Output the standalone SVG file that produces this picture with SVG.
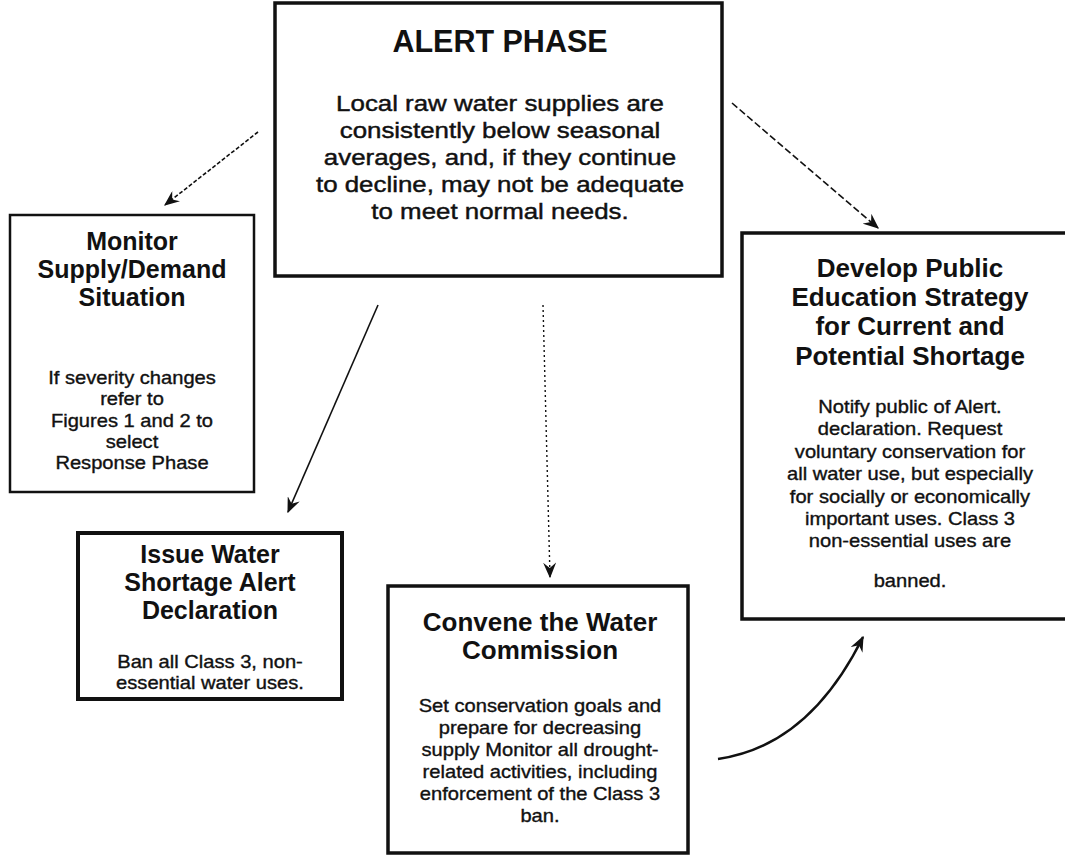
<svg xmlns="http://www.w3.org/2000/svg" width="1065" height="857" viewBox="0 0 1065 857">
<defs>
<style>
.box{fill:#fff;stroke:#111;}
.t{font-family:"Liberation Sans",Arial,sans-serif;font-weight:bold;font-size:25px;fill:#111;text-anchor:middle;}
.b{font-family:"Liberation Sans",Arial,sans-serif;font-size:17.5px;fill:#111;stroke:#111;stroke-width:0.35;text-anchor:middle;}
.c{fill:none;stroke:#111;}
</style>
<marker id="ah" viewBox="0 0 12 10" refX="11" refY="5" markerUnits="userSpaceOnUse" markerWidth="16" markerHeight="13" orient="auto">
<path d="M0,0 L12,5 L0,10 L4,5 Z" fill="#111"/>
</marker>
</defs>
<rect width="1065" height="857" fill="#fff"/>

<g id="alert">
<rect class="box" x="275" y="3" width="447" height="273" stroke-width="3.5"/>
<text class="t" x="500" y="52" style="font-size:30.5px">ALERT PHASE</text>
<g transform="matrix(1.15 0 0 1 -75 0)">
<text class="b" x="500" y="111" style="font-size:22.5px;stroke-width:0.45">Local raw water supplies are</text>
<text class="b" x="500" y="138" style="font-size:22.5px;stroke-width:0.45">consistently below seasonal</text>
<text class="b" x="500" y="165" style="font-size:22.5px;stroke-width:0.45">averages, and, if they continue</text>
<text class="b" x="500" y="192" style="font-size:22.5px;stroke-width:0.45">to decline, may not be adequate</text>
<text class="b" x="500" y="219" style="font-size:22.5px;stroke-width:0.45">to meet normal needs.</text>
</g>
</g>

<g id="monitor">
<rect class="box" x="10" y="215" width="244" height="277" stroke-width="2.5"/>
<text class="t" x="132" y="250">Monitor</text>
<text class="t" x="132" y="278">Supply/Demand</text>
<text class="t" x="132" y="306">Situation</text>
<g transform="matrix(1.15 0 0 1 -19.8 0)">
<text class="b" x="132" y="384">If severity changes</text>
<text class="b" x="132" y="405">refer to</text>
<text class="b" x="132" y="427">Figures 1 and 2 to</text>
<text class="b" x="132" y="448">select</text>
<text class="b" x="132" y="469">Response Phase</text>
</g>
</g>

<g id="issue">
<rect class="box" x="78" y="533" width="264" height="166" stroke-width="4"/>
<text class="t" x="210" y="563">Issue Water</text>
<text class="t" x="210" y="591">Shortage Alert</text>
<text class="t" x="210" y="619">Declaration</text>
<g transform="matrix(1.15 0 0 1 -31.5 0)">
<text class="b" x="210" y="668">Ban all Class 3, non-</text>
<text class="b" x="210" y="689">essential water uses.</text>
</g>
</g>

<g id="convene">
<rect class="box" x="388" y="586" width="300" height="267" stroke-width="3.5"/>
<text class="t" x="540" y="631" style="font-size:26px">Convene the Water</text>
<text class="t" x="540" y="659" style="font-size:26px">Commission</text>
<g transform="matrix(1.15 0 0 1 -81 0)">
<text class="b" x="540" y="712">Set conservation goals and</text>
<text class="b" x="540" y="734">prepare for decreasing</text>
<text class="b" x="540" y="756">supply Monitor all drought-</text>
<text class="b" x="540" y="778">related activities, including</text>
<text class="b" x="540" y="800">enforcement of the Class 3</text>
<text class="b" x="540" y="822">ban.</text>
</g>
</g>

<g id="public">
<rect class="box" x="742" y="233" width="340" height="386" stroke-width="3.5"/>
<text class="t" x="910" y="277" style="font-size:26px">Develop Public</text>
<text class="t" x="910" y="306" style="font-size:26px">Education Strategy</text>
<text class="t" x="910" y="335" style="font-size:26px">for Current and</text>
<text class="t" x="910" y="365" style="font-size:26px">Potential Shortage</text>
<g transform="matrix(1.15 0 0 1 -136.5 0)">
<text class="b" x="910" y="413">Notify public of Alert.</text>
<text class="b" x="910" y="435">declaration. Request</text>
<text class="b" x="910" y="458">voluntary conservation for</text>
<text class="b" x="910" y="480">all water use, but especially</text>
<text class="b" x="910" y="503">for socially or economically</text>
<text class="b" x="910" y="525">important uses. Class 3</text>
<text class="b" x="910" y="547">non-essential uses are</text>
<text class="b" x="910" y="587">banned.</text>
</g>
</g>

<g id="connectors">
<line class="c" x1="258" y1="132" x2="165" y2="205" stroke-width="1.6" stroke-dasharray="4 2" marker-end="url(#ah)"/>
<line class="c" x1="732" y1="103" x2="878" y2="228" stroke-width="1.6" stroke-dasharray="7 3" marker-end="url(#ah)"/>
<line class="c" x1="378" y1="305" x2="288" y2="512" stroke-width="1.6" marker-end="url(#ah)"/>
<line class="c" x1="543" y1="305" x2="550" y2="577" stroke-width="1.4" stroke-dasharray="2 3" marker-end="url(#ah)"/>
<path class="c" d="M718,759 Q809,746 863,637" stroke-width="2.5" marker-end="url(#ah)"/>
</g>
</svg>
